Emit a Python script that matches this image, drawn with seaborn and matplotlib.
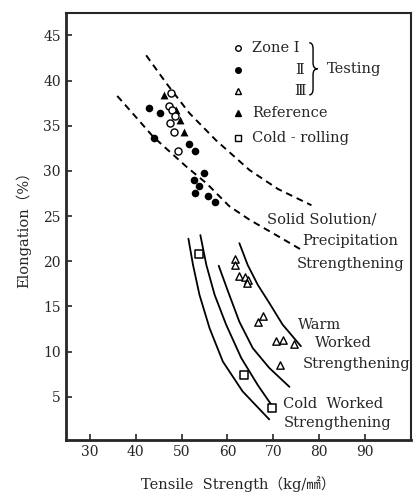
import numpy as np
import pandas as pd
import matplotlib.pyplot as plt
import seaborn as sns
from matplotlib.path import Path
from matplotlib.patches import PathPatch

# points (tensile strength kg/mm2, elongation %)
zone1_ts = [47.8, 47.2, 47.9, 48.5, 47.4, 48.3, 49.3]
zone1_el = [38.6, 37.2, 36.7, 36.1, 35.3, 34.3, 32.2]

zone2_ts = [42.9, 45.4, 44.1, 51.6, 52.9, 54.8, 52.8, 53.9, 53.0, 55.7, 57.3]
zone2_el = [37.0, 36.4, 33.6, 33.0, 32.2, 29.8, 29.0, 28.3, 27.6, 27.2, 26.6]

zone3_ts = [61.7, 61.7, 62.6, 63.9, 64.5, 64.2, 67.7, 66.7, 70.6, 72.0, 74.6, 71.5]
zone3_el = [20.2, 19.6, 18.4, 18.3, 17.9, 17.6, 13.9, 13.3, 11.2, 11.3, 10.8, 8.5]

ref_ts = [46.2, 48.8, 49.7, 50.5]
ref_el = [38.4, 36.8, 35.6, 34.3]

cold_ts = [53.7, 63.7, 69.6]
cold_el = [20.8, 7.4, 3.8]

# hand drawn band curves
ss_upper_ts = [42.3, 46.7, 51.7, 57.5, 64.8, 71.0, 78.3]
ss_upper_el = [42.8, 39.7, 36.4, 33.4, 30.1, 28.0, 26.2]
ss_lower_ts = [36.0, 40.0, 43.8, 47.5, 51.0, 55.5, 60.4, 64.8, 70.6, 76.0]
ss_lower_el = [38.3, 36.0, 33.8, 32.1, 30.5, 28.6, 26.1, 24.6, 22.9, 21.3]

cw_a_ts = [51.5, 52.5, 53.9, 56.1, 59.0, 63.3, 69.1]
cw_a_el = [22.5, 19.6, 16.3, 12.6, 8.9, 5.6, 2.5]
cw_b_ts = [54.1, 55.4, 57.2, 59.7, 63.0, 66.6, 70.4]
cw_b_el = [22.9, 19.6, 16.3, 13.0, 9.3, 6.3, 3.5]
ww_a_ts = [58.1, 60.1, 62.6, 65.5, 69.1, 73.5]
ww_a_el = [19.5, 16.7, 13.3, 10.4, 8.2, 6.1]
ww_b_ts = [62.6, 64.4, 66.6, 69.1, 72.0, 76.0]
ww_b_el = [22.0, 19.6, 17.4, 15.4, 13.0, 10.6]

x_ticks = [30, 40, 50, 60, 70, 80, 90]
y_ticks = [5, 10, 15, 20, 25, 30, 35, 40, 45]

sns.set_style('ticks')
plt.rcParams['font.family'] = ['DejaVu Serif', 'Noto Sans CJK JP']
plt.rcParams['font.size'] = 10

fig = plt.figure(figsize=(4.14, 4.94), dpi=100)
ax = fig.add_axes([0.159, 0.109, 0.834, 0.865])

# curves
for xs, ys in [(ss_upper_ts, ss_upper_el), (ss_lower_ts, ss_lower_el)]:
    sns.lineplot(x=xs, y=ys, sort=False, estimator=None, ax=ax,
                 color='black', lw=1.4, linestyle=(0, (3.5, 2.5)))
for xs, ys in [(cw_a_ts, cw_a_el), (cw_b_ts, cw_b_el), (ww_a_ts, ww_a_el), (ww_b_ts, ww_b_el)]:
    sns.lineplot(x=xs, y=ys, sort=False, estimator=None, ax=ax, color='black', lw=1.3)

# points
sns.scatterplot(x=zone2_ts, y=zone2_el, marker='o', s=30, color='black', linewidth=0, ax=ax, zorder=3)
sns.scatterplot(x=ref_ts, y=ref_el, marker='^', s=32, color='black', linewidth=0, ax=ax, zorder=3)
sns.scatterplot(x=zone1_ts, y=zone1_el, marker='o', s=26, facecolor='white',
                edgecolor='black', linewidth=1.0, ax=ax, zorder=4)
sns.scatterplot(x=zone3_ts, y=zone3_el, marker='^', s=28, facecolor='white',
                edgecolor='black', linewidth=1.0, ax=ax, zorder=4)
sns.scatterplot(x=cold_ts, y=cold_el, marker='s', s=28, facecolor='white',
                edgecolor='black', linewidth=1.1, ax=ax, zorder=4)

# curve labels
lab_kw = dict(va='center', fontsize=10.5)
ax.text(68.7, 24.6, 'Solid Solution/', **lab_kw)
ax.text(76.3, 22.2, 'Precipitation', **lab_kw)
ax.text(75.2, 19.7, 'Strengthening', **lab_kw)
ax.text(75.4, 13.0, 'Warm', **lab_kw)
ax.text(79.1, 10.9, 'Worked', **lab_kw)
ax.text(76.3, 8.6, 'Strengthening', **lab_kw)
ax.text(72.2, 4.2, 'Cold  Worked', **lab_kw)
ax.text(72.2, 2.1, 'Strengthening', **lab_kw)

# hand made legend
tr = ax.transAxes
leg_rows = [(0.918, 'o', 'white', 'Zone Ⅰ', 0.539, 'left'),
            (0.866, 'o', 'black', 'Ⅱ', 0.678, 'center'),
            (0.817, '^', 'white', 'Ⅲ', 0.678, 'center'),
            (0.766, '^', 'black', 'Reference', 0.539, 'left'),
            (0.707, 's', 'white', 'Cold - rolling', 0.539, 'left')]
for yy, mk, fc, lab, tx, ha in leg_rows:
    ax.plot([0.4986], [yy], marker=mk, ms=4, mfc=fc, mec='black', mew=1.0,
            transform=tr, ls='none')
    ax.text(tx, yy, lab, transform=tr, va='center', ha=ha, fontsize=10.5)

# curly brace grouping the testing zones
x0, x1, x2 = 0.705, 0.716, 0.729
yt, ym, yb, d = 0.930, 0.869, 0.808, 0.014
brace = Path([(x0, yt), (x1, yt), (x1, yt - d),
              (x1, ym + d),
              (x1, ym), (x2, ym),
              (x1, ym), (x1, ym - d),
              (x1, yb + d),
              (x1, yb), (x0, yb)],
             [Path.MOVETO, Path.CURVE3, Path.CURVE3,
              Path.LINETO,
              Path.CURVE3, Path.CURVE3,
              Path.CURVE3, Path.CURVE3,
              Path.LINETO,
              Path.CURVE3, Path.CURVE3])
ax.add_patch(PathPatch(brace, transform=tr, fc='none', ec='black', lw=1.0))
ax.text(0.757, 0.869, 'Testing', transform=tr, va='center', ha='left', fontsize=10.5)

ax.set_xlim(24.8, 100)
ax.set_ylim(0.2, 47.5)
ax.set_xticks(x_ticks)
ax.set_yticks(y_ticks)
ax.tick_params(direction='in', length=4, width=1.2, labelsize=10)
ax.set_xlabel('Tensile  Strength（kg/㎟）', labelpad=12, fontsize=10.5)
ax.set_ylabel('Elongation（%）', labelpad=9, fontsize=10.5)
for side in ['left', 'bottom']:
    ax.spines[side].set_linewidth(2.0)
for side in ['top', 'right']:
    ax.spines[side].set_linewidth(1.5)

plt.savefig('out.png', dpi=100)
plt.close()
